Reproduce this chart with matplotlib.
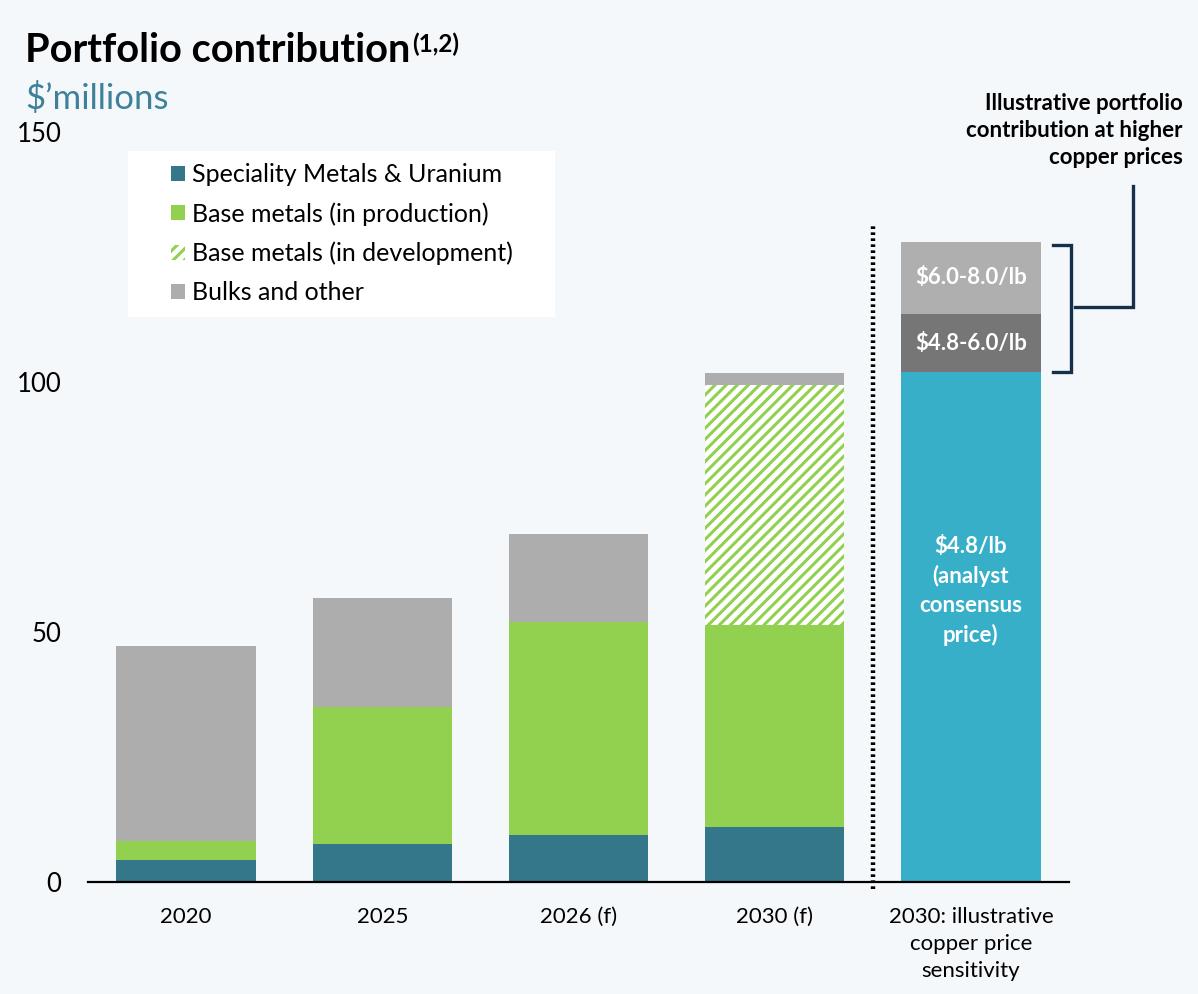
import numpy as np
import matplotlib.pyplot as plt
from matplotlib.patches import Patch, Rectangle

# ---------- data ----------
categories = ['2020', '2025', '2026 (f)', '2030 (f)',
              '2030: illustrative\ncopper price\nsensitivity']
speciality = [4.5, 7.6, 9.4, 11.1]          # Speciality Metals & Uranium
base_prod = [3.7, 27.5, 42.6, 40.3]         # Base metals (in production)
base_dev = [0.0, 0.0, 0.0, 48.0]            # Base metals (in development)
bulks = [39.1, 21.8, 17.6, 2.5]             # Bulks and other
sens_values = [102.0, 11.6, 14.4]           # 2030 copper price sensitivity
sens_labels = ['$4.8/lb\n(analyst\nconsensus\nprice)', '$4.8-6.0/lb', '$6.0-8.0/lb']
yticks = [0, 50, 100, 150]

# ---------- style ----------
BG = '#f5f8fa'
TEAL = '#34768a'
GREEN = '#92d050'
GRAY = '#adadad'
BLUE = '#37afc9'
DGRAY = '#767676'
LGRAY = '#afafaf'
NAVY = '#15304a'
plt.rcParams['font.family'] = ['Lato', 'DejaVu Sans']
plt.rcParams['hatch.linewidth'] = 2.2

W, H = 1198, 994
fig = plt.figure(figsize=(W / 100, H / 100), dpi=100, facecolor=BG)
ax = fig.add_axes([88 / W, 112 / H, (1069 - 88) / W, (862 - 112) / H])
ax.set_facecolor(BG)

x = np.arange(len(categories))
bw = 0.71
xs = x[:4]

# stacked bars
b0 = np.zeros(4)
ax.bar(xs, speciality, bw, bottom=b0, color=TEAL)
b0 = b0 + speciality
ax.bar(xs, base_prod, bw, bottom=b0, color=GREEN)
b0 = b0 + base_prod
ax.bar(xs, base_dev, bw, bottom=b0, color='white', edgecolor=GREEN,
       hatch='///', linewidth=0)
b0 = b0 + base_dev
ax.bar(xs, bulks, bw, bottom=b0, color=GRAY)

# sensitivity bar
sb = 0.0
for v, c, lab in zip(sens_values, [BLUE, DGRAY, LGRAY], sens_labels):
    ax.bar(x[4], v, bw, bottom=sb, color=c)
    yy = sb + v / 2 if '\n' not in lab else sb + v * 0.57
    ax.text(x[4], yy, lab, ha='center', va='center', color='white',
            fontsize=16, fontweight='bold', linespacing=1.45)
    sb += v

# dotted divider
ax.plot([3.5, 3.5], [-1.3, 131.4], color='black', lw=3.2,
        linestyle=(0, (0.6, 0.75)), clip_on=False, solid_capstyle='butt')

# bracket
top = sum(sens_values)
base = sens_values[0]
mid = (top + base) / 2
bx0, bx1, bx2 = 4.417, 4.508, 4.824
ax.plot([bx0, bx1, bx1, bx0], [top - 0.5, top - 0.5, base, base],
        color=NAVY, lw=2.4, clip_on=False, solid_joinstyle='miter')
ax.plot([bx1 + 0.025, bx2, bx2], [mid, mid, 139.2], color=NAVY, lw=2.4,
        clip_on=False, solid_joinstyle='miter')
fig.text(1183 / W, 1 - 93 / H,
         'Illustrative portfolio\ncontribution at higher\ncopper prices',
         ha='right', va='top', fontsize=16, fontweight='bold',
         linespacing=1.35)

# axes
ax.set_xlim(-0.5, 4.5)
ax.set_ylim(0, 150)
ax.set_xticks(x)
ax.set_xticklabels(categories, fontsize=16, linespacing=1.45)
ax.set_yticks(yticks)
ax.set_yticklabels([str(t) for t in yticks], fontsize=18.5)
ax.tick_params(length=0)
ax.tick_params(axis='x', pad=18)
ax.tick_params(axis='y', pad=19)
for s in ['top', 'right', 'left']:
    ax.spines[s].set_visible(False)
ax.spines['bottom'].set_linewidth(1.6)

# legend box
fig.add_artist(Rectangle((128 / W, 1 - 317 / H), (555 - 128) / W, (317 - 151) / H,
                         transform=fig.transFigure, facecolor='white',
                         edgecolor='none', zorder=1))
handles = [Patch(facecolor=TEAL), Patch(facecolor=GREEN),
           Patch(facecolor='white', edgecolor=GREEN, hatch='///', linewidth=0),
           Patch(facecolor=GRAY)]
labels = ['Speciality Metals & Uranium', 'Base metals (in production)',
          'Base metals (in development)', 'Bulks and other']
leg = fig.legend(handles, labels, loc='upper left',
                 bbox_to_anchor=(151 / W, 1 - 143 / H), frameon=False,
                 fontsize=18, handlelength=0.56, handleheight=0.56,
                 handletextpad=0.3, labelspacing=0.64, borderpad=0.3)
leg.set_zorder(2)

# title
t = fig.text(25 / W, 1 - 62 / H, 'Portfolio contribution', fontsize=28.6,
             fontweight='bold', va='baseline')
fig.canvas.draw()
bb = t.get_window_extent()
fig.text(bb.x1 / W + 2 / W, 1 - 52 / H, '(1,2)', fontsize=17.5, fontweight='bold',
         va='baseline')
fig.text(25 / W, 1 - 109 / H, '\u0024\u2019millions', fontsize=25,
         color='#3e8199', va='baseline')

fig.savefig('out.png', dpi=100, facecolor=BG)
